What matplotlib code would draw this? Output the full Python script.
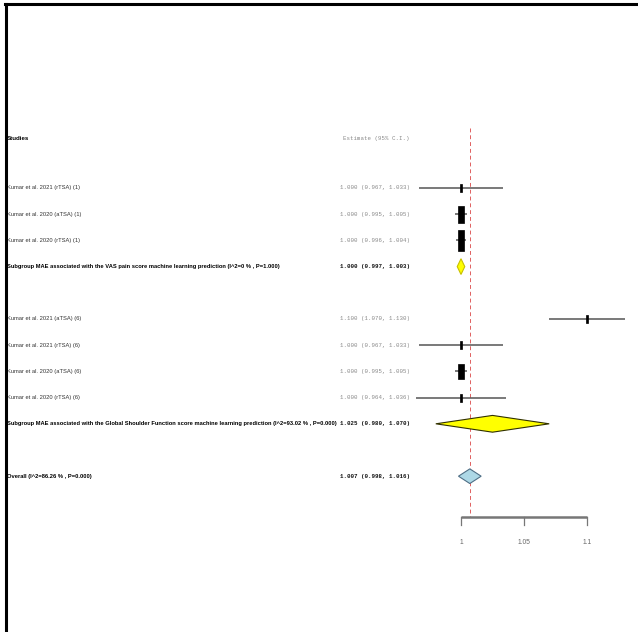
import matplotlib
matplotlib.use("Agg")
import matplotlib.pyplot as plt
from matplotlib.patches import Rectangle, Polygon
from matplotlib.lines import Line2D
import matplotlib.transforms as mtransforms

# ---------------- data ----------------
study_labels = [
    "Kumar et al. 2021 (rTSA) (1)",
    "Kumar et al. 2020 (aTSA) (1)",
    "Kumar et al. 2020 (rTSA) (1)",
    "Kumar et al. 2021 (aTSA) (6)",
    "Kumar et al. 2021 (rTSA) (6)",
    "Kumar et al. 2020 (aTSA) (6)",
    "Kumar et al. 2020 (rTSA) (6)",
]
study_est = [1.000, 1.000, 1.000, 1.100, 1.000, 1.000, 1.000]
study_lo = [0.967, 0.995, 0.996, 1.070, 0.967, 0.995, 0.964]
study_hi = [1.033, 1.005, 1.004, 1.130, 1.033, 1.005, 1.036]
study_rows = [0, 1, 2, 5, 6, 7, 8]

summary_labels = [
    "Subgroup MAE associated with the VAS pain score machine learning prediction (I^2=0 % , P=1.000)",
    "Subgroup MAE associated with the Global Shoulder Function score machine learning prediction (I^2=93.02 % , P=0.000)",
    "Overall (I^2=86.26 % , P=0.000)",
]
summary_est = [1.000, 1.025, 1.007]
summary_lo = [0.997, 0.980, 0.998]
summary_hi = [1.003, 1.070, 1.016]
summary_rows = [3, 9, 11]

tick_values = [1.0, 1.05, 1.1]
tick_labels = ["1", "1.05", "1.1"]

# ---------------- style ----------------
box_heights = [0.30, 0.65, 0.78, 0.30, 0.30, 0.55, 0.30]   # in row units
box_widths = [0.0015, 0.0045, 0.0055, 0.0015, 0.0015, 0.0045, 0.0015]
summary_fill = ["#ffff00", "#ffff00", "#add8e6"]
summary_edge = ["#c8c000", "#303000", "#4f6f86"]
summary_half_h = [0.30, 0.32, 0.28]

W, H = 638, 632
fig = plt.figure(figsize=(W / 100, H / 100), dpi=100)
ax = fig.add_axes([0, 0, 1, 1])
ax.set_axis_off()

# x scale: 1.0 at pixel 461, 0.05 per 63 px
px_per_unit = 63 / 0.05
x0 = 1.0 - 461 / px_per_unit
x1 = 1.0 + (W - 461) / px_per_unit
ax.set_xlim(x0, x1)
# y scale: row 0 at pixel 188, 26.2 px per row
row_px = 26.2
ax.set_ylim((H - 188) / row_px, -188 / row_px)

trans_lbl = mtransforms.blended_transform_factory(ax.transAxes, ax.transData)

label_font = ["Liberation Sans", "DejaVu Sans"]
mono_font = ["Liberation Mono", "DejaVu Sans Mono"]
lbl_x = 7 / W
est_x = 340 / W
fs_lbl = 4.15
fs_est = 4.15

# headers
ax.text(lbl_x, -1.9, "Studies", transform=trans_lbl, family=label_font,
        fontweight="bold", fontsize=fs_lbl + 0.3, va="center", ha="left", color="black")
ax.text(343 / W, -1.9, "Estimate (95% C.I.)", transform=trans_lbl, family=mono_font,
        fontsize=fs_est, va="center", ha="left", color="#8a8a8a")

# studies
for lab, e, lo, hi, r, bh, bw in zip(study_labels, study_est, study_lo, study_hi,
                                      study_rows, box_heights, box_widths):
    ax.text(lbl_x, r, lab, transform=trans_lbl, family=label_font,
            fontsize=fs_lbl, va="center", ha="left", color="#333333")
    ax.text(est_x, r, f"{e:.3f} ({lo:.3f}, {hi:.3f})", transform=trans_lbl,
            family=mono_font, fontsize=fs_est, va="center", ha="left", color="#8a8a8a")
    ax.plot([lo, hi], [r, r], color="#555555", lw=1.1, solid_capstyle="butt", zorder=2)
    ax.add_patch(Rectangle((e - bw / 2, r - bh / 2), bw, bh, facecolor="black",
                           edgecolor="black", lw=0.5, zorder=3))

# summaries
for lab, e, lo, hi, r, fc, ec, hh in zip(summary_labels, summary_est, summary_lo,
                                          summary_hi, summary_rows, summary_fill,
                                          summary_edge, summary_half_h):
    ax.text(lbl_x, r, lab, transform=trans_lbl, family=label_font, fontweight="bold",
            fontsize=fs_lbl, va="center", ha="left", color="black")
    ax.text(est_x, r, f"{e:.3f} ({lo:.3f}, {hi:.3f})", transform=trans_lbl,
            family=mono_font, fontweight="bold", fontsize=fs_est, va="center",
            ha="left", color="#111111")
    ax.add_patch(Polygon([(lo, r), (e, r - hh), (hi, r), (e, r + hh)], closed=True,
                         facecolor=fc, edgecolor=ec, lw=0.8, zorder=4))

# reference dashed line at the overall estimate
axis_row = (517 - 188) / row_px
ax.plot([summary_est[2], summary_est[2]], [(128 - 188) / row_px, axis_row],
        color="#e06060", lw=0.7, ls=(0, (4, 3)), zorder=1)

# bottom axis
ax.plot([tick_values[0], tick_values[-1]], [axis_row, axis_row], color="#777777",
        lw=1.8, solid_capstyle="butt", zorder=2)
for tv, tl in zip(tick_values, tick_labels):
    ax.plot([tv, tv], [axis_row, axis_row + 0.3], color="#777777", lw=0.9)
    ax.text(tv, (542 - 188) / row_px, tl, family=label_font, fontsize=fs_lbl + 0.6,
            ha="center", va="center", color="#666666")

# frame (left and top border)
fig.add_artist(Line2D([5.5 / W, 5.5 / W], [0, 1 - 4 / H], color="black", lw=2.2,
                      transform=fig.transFigure))
fig.add_artist(Line2D([4.5 / W, 1], [1 - 4 / H, 1 - 4 / H], color="black", lw=2.2,
                      transform=fig.transFigure))

fig.savefig("out.png", dpi=100, facecolor="white")
